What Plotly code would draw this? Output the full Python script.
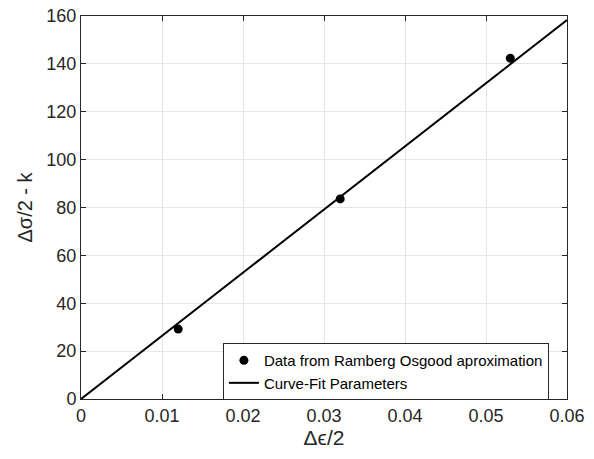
import plotly.graph_objects as go

# Data
data_x = [0.012, 0.032, 0.053]
data_y = [29.2, 83.6, 142.4]
fit_x = [0.0, 0.06]
fit_y = [0.0, 158.3]

x_ticks = [0, 0.01, 0.02, 0.03, 0.04, 0.05, 0.06]
x_tick_labels = ["0", "0.01", "0.02", "0.03", "0.04", "0.05", "0.06"]
y_ticks = [0, 20, 40, 60, 80, 100, 120, 140, 160]

fig = go.Figure()
fig.add_trace(go.Scatter(
    x=data_x, y=data_y, mode="markers",
    marker=dict(color="black", size=9),
    name="Data from Ramberg Osgood aproximation"))
fig.add_trace(go.Scatter(
    x=fit_x, y=fit_y, mode="lines",
    line=dict(color="black", width=2),
    name="Curve-Fit Parameters"))

axis_common = dict(
    showline=True, linecolor="#262626", linewidth=1, mirror="ticks",
    ticks="inside", ticklen=5, tickcolor="#262626",
    showgrid=True, gridcolor="#e6e6e6", gridwidth=1,
    zeroline=False, automargin=False,
    tickfont=dict(family="Liberation Sans, Arial", size=18, color="#262626"),
)

fig.update_layout(
    width=594, height=459,
    margin=dict(l=81, r=27, t=16, b=60),
    paper_bgcolor="white", plot_bgcolor="white",
    font=dict(family="Liberation Sans, Arial", color="#262626"),
    xaxis=dict(range=[0, 0.06], tickvals=x_ticks, ticktext=x_tick_labels,
               title=dict(text="Δϵ/2", font=dict(size=21), standoff=4), **axis_common),
    yaxis=dict(range=[0, 160], tickvals=y_ticks,
               title=dict(text="Δσ/2 - k", font=dict(size=20), standoff=8), **axis_common),
    legend=dict(x=0.292, y=0.146, xanchor="left", yanchor="top",
                bordercolor="#262626", borderwidth=1, bgcolor="white",
                font=dict(size=15, color="black"),
                tracegroupgap=0, itemwidth=30),
    showlegend=True,
)

fig.write_html("out.html", config={"displayModeBar": False},
               post_script="document.body.style.margin='0';document.body.style.padding='0';")
